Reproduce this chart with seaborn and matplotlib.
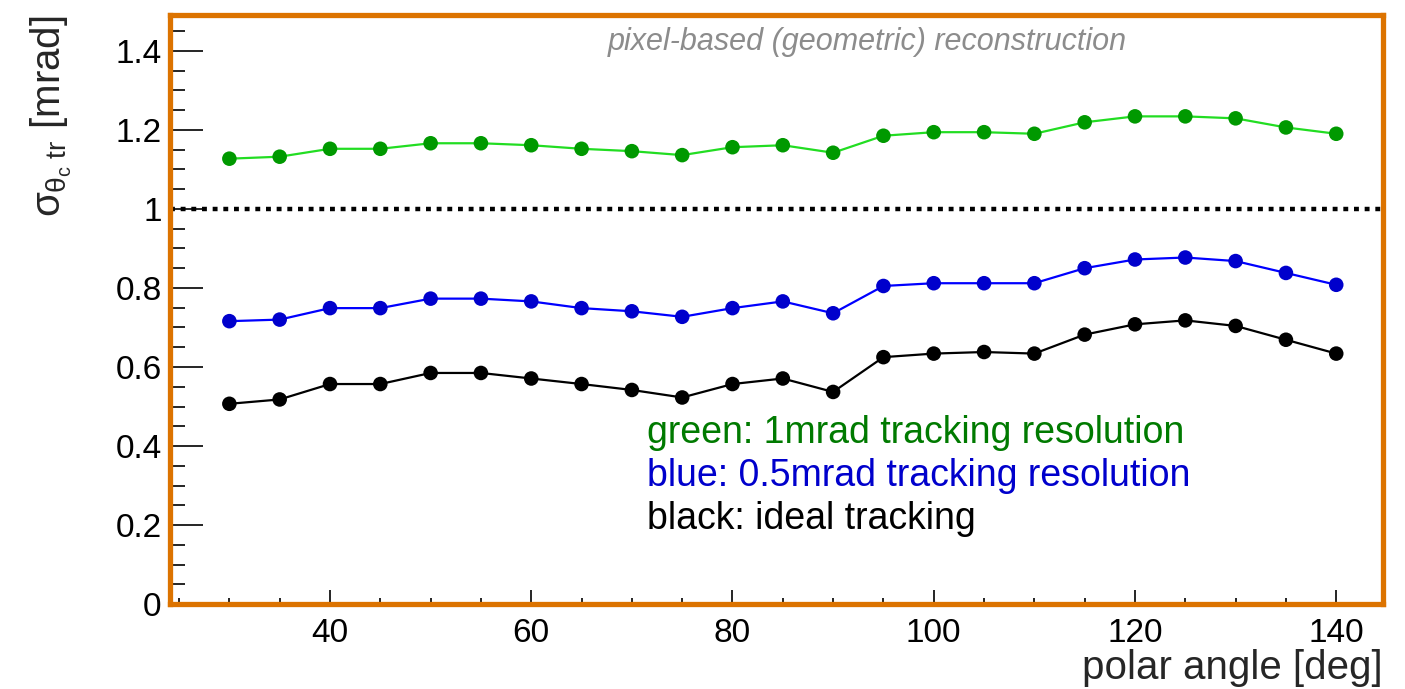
import matplotlib
matplotlib.use("Agg")
import matplotlib.pyplot as plt
import seaborn as sns
import pandas as pd
from matplotlib.ticker import MultipleLocator, FuncFormatter

# ---- data ----
polar_angle = [30, 35, 40, 45, 50, 55, 60, 65, 70, 75, 80, 85, 90,
               95, 100, 105, 110, 115, 120, 125, 130, 135, 140]
sigma_1mrad = [1.127, 1.132, 1.152, 1.152, 1.166, 1.166, 1.161, 1.152, 1.146, 1.136, 1.156, 1.161,
               1.142, 1.185, 1.194, 1.194, 1.190, 1.219, 1.234, 1.234, 1.229, 1.206, 1.190]
sigma_05mrad = [0.716, 0.720, 0.749, 0.749, 0.773, 0.773, 0.766, 0.749, 0.741, 0.727, 0.749, 0.766,
                0.736, 0.805, 0.812, 0.812, 0.812, 0.850, 0.872, 0.877, 0.868, 0.838, 0.808]
sigma_ideal = [0.507, 0.518, 0.557, 0.557, 0.585, 0.585, 0.571, 0.557, 0.542, 0.523, 0.557, 0.571,
               0.537, 0.625, 0.634, 0.638, 0.634, 0.682, 0.708, 0.718, 0.704, 0.669, 0.634]
series_names = ["green", "blue", "black"]
legend_lines = ["green: 1mrad tracking resolution",
                "blue: 0.5mrad tracking resolution",
                "black: ideal tracking"]
reference_level = 1.0

df = pd.concat([
    pd.DataFrame({"angle": polar_angle, "sigma": sigma_1mrad, "series": "green"}),
    pd.DataFrame({"angle": polar_angle, "sigma": sigma_05mrad, "series": "blue"}),
    pd.DataFrame({"angle": polar_angle, "sigma": sigma_ideal, "series": "black"}),
])

line_colors = {"green": "#22dd22", "blue": "#0000ff", "black": "#000000"}
marker_colors = {"green": "#009900", "blue": "#0000cc", "black": "#000000"}
text_colors = {"green": "#007a00", "blue": "#0000cc", "black": "#000000"}

sns.set_theme(style="white")
plt.rcParams["font.family"] = ["Liberation Sans", "DejaVu Sans"]
plt.rcParams["mathtext.fontset"] = "custom"
plt.rcParams["mathtext.rm"] = "Liberation Sans"
plt.rcParams["mathtext.it"] = "Liberation Sans"

fig = plt.figure(figsize=(14.05, 6.89), dpi=100)
ax = fig.add_axes([0.121, 0.123, 0.863, 0.855])

ax.axhline(reference_level, color="black", lw=3.2, linestyle=(0, (1.1, 1.3)), zorder=1)

sns.lineplot(data=df, x="angle", y="sigma", hue="series", palette=line_colors,
             hue_order=series_names, lw=1.6, legend=False, ax=ax, zorder=2)
sns.scatterplot(data=df, x="angle", y="sigma", hue="series", palette=marker_colors,
                hue_order=series_names, s=110, linewidth=0, legend=False, ax=ax, zorder=3)

ax.set_xlim(24.1, 144.6)
ax.set_ylim(0, 1.49)

ax.xaxis.set_major_locator(MultipleLocator(20))
ax.xaxis.set_minor_locator(MultipleLocator(5))
ax.yaxis.set_major_locator(MultipleLocator(0.2))
ax.yaxis.set_minor_locator(MultipleLocator(0.05))
ax.yaxis.set_major_formatter(FuncFormatter(
    lambda v, p: f"{int(round(v))}" if abs(v - round(v)) < 1e-9 else f"{v:.1f}"))

ax.tick_params(axis="both", which="both", direction="in", colors="black",
               labelsize=24, width=1.2, bottom=True, left=True, top=False, right=False)
ax.tick_params(axis="y", which="major", length=24, pad=6)
ax.tick_params(axis="y", which="minor", length=11)
ax.tick_params(axis="x", which="major", length=10, pad=10)
ax.tick_params(axis="x", which="minor", length=4)

for sp in ax.spines.values():
    sp.set_color("#dc7300")
    sp.set_linewidth(3.8)
    sp.set_visible(True)

ax.set_xlabel("polar angle [deg]", fontsize=29, ha="right", x=1.0, labelpad=0)
ax.set_ylabel(r"$\sigma_{\theta_{c}\ \mathrm{tr}}$ [mrad]", fontsize=29, ha="right", y=1.0, labelpad=30)

ax.text(0.575, 0.955, "pixel-based (geometric) reconstruction", transform=ax.transAxes,
        ha="center", va="center", fontsize=22, style="italic", color="#8c8c8c")

for i, (name, txt) in enumerate(zip(series_names, legend_lines)):
    ax.text(0.393, 0.29 - i * 0.073, txt, transform=ax.transAxes, ha="left", va="center",
            fontsize=27, color=text_colors[name])

fig.savefig("out.png", dpi=100)
